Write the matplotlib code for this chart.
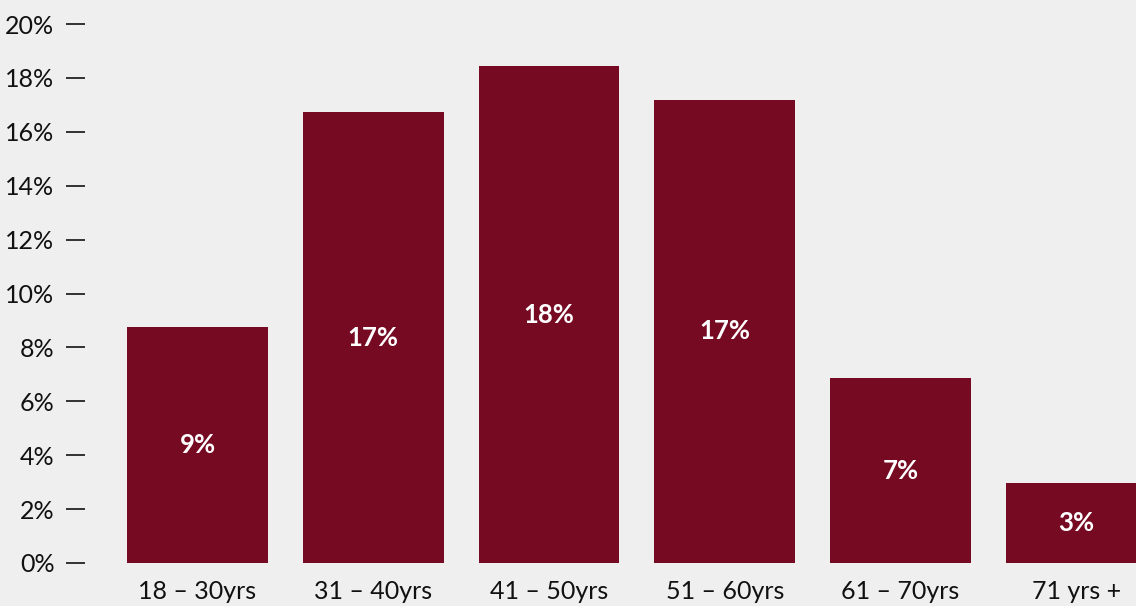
import matplotlib
matplotlib.use("Agg")
from matplotlib import pyplot as plt

#data
groups = ["18 – 30yrs", "31 – 40yrs", "41 – 50yrs", "51 – 60yrs", "61 – 70yrs", "71 yrs +"]
share = [8.76, 16.73, 18.44, 17.18, 6.86, 2.97]
labels = ["9%", "17%", "18%", "17%", "7%", "3%"]
yticks = [0, 2, 4, 6, 8, 10, 12, 14, 16, 18, 20]

bg = "#efefef"
red = "#750a22"
plt.rcParams['font.family'] = ['Lato', 'DejaVu Sans']

fig = plt.figure(figsize=(11.36, 6.06), dpi=100, facecolor=bg)
ax = fig.add_axes([85 / 1136, 1 - 563 / 606, 1 - 85 / 1136, (563 - 24) / 606])
ax.set_facecolor(bg)

xs = list(range(len(groups)))
bars = ax.bar(xs, share, width=0.8, color=red)

#labels in the middle of each bar
for x, v, t in zip(xs, share, labels):
    ax.text(x, v / 2, t, ha="center", va="center", color="white",
            fontsize=18.5, fontweight="bold")

ax.set_xlim(-0.64, 5.34)
ax.set_ylim(0, 20)
ax.set_yticks(yticks)
ax.set_yticklabels([f"{t}%" for t in yticks], fontsize=18, color="#111111")
ax.set_xticks(xs)
ax.set_xticklabels(groups, fontsize=18, color="#111111")
ax.tick_params(axis="y", length=14, width=1.2, pad=8, color="#111111")
ax.tick_params(axis="x", length=0, pad=12)
for s in ax.spines.values():
    s.set_visible(False)

fig.savefig("out.png", dpi=100, facecolor=bg)
